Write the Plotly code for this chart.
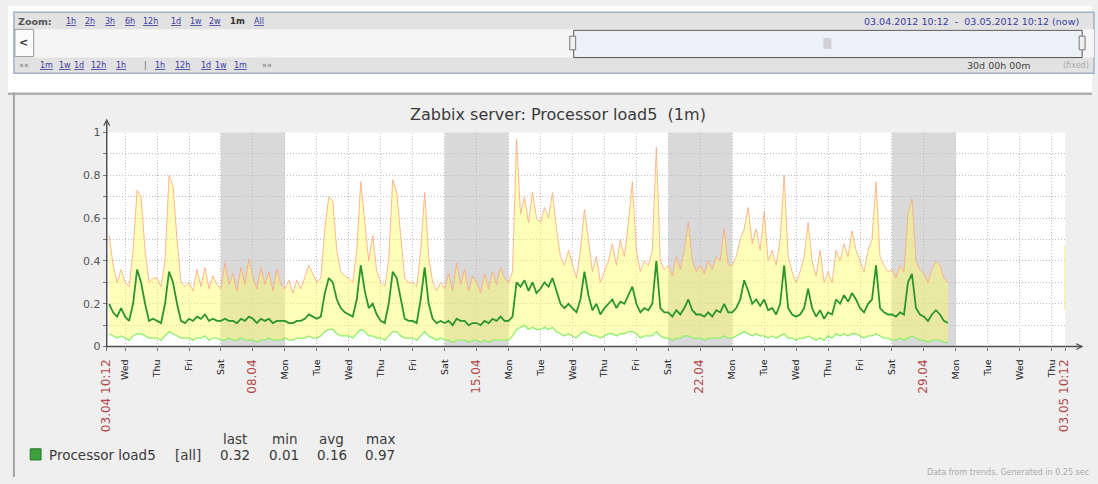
import plotly.graph_objects as go
import pandas as pd

W, H = 1098, 484

# ---------------- data (3-hour trend points, 03.04 12:00 .. 29.04 18:00) ----------------
series_start = "2012-04-03 12:00"
step = "3h"

max_load = [
    0.52, 0.38, 0.30, 0.36,
    0.30, 0.28, 0.45, 0.73, 0.70, 0.45, 0.30, 0.32,
    0.32, 0.28, 0.40, 0.80, 0.75, 0.50, 0.30, 0.28,
    0.30, 0.26, 0.36, 0.28, 0.37, 0.27, 0.33, 0.29,
    0.27, 0.39, 0.29, 0.34, 0.26, 0.37, 0.29, 0.41,
    0.32, 0.27, 0.37, 0.29, 0.35, 0.26, 0.36, 0.29,
    0.27, 0.31, 0.25, 0.31, 0.27, 0.33, 0.38, 0.34,
    0.30, 0.32, 0.55, 0.70, 0.68, 0.45, 0.35, 0.33,
    0.32, 0.30, 0.45, 0.77, 0.60, 0.40, 0.52, 0.35,
    0.30, 0.28, 0.40, 0.78, 0.72, 0.50, 0.32, 0.30,
    0.30, 0.28, 0.45, 0.72, 0.42, 0.30, 0.26, 0.30,
    0.27, 0.34, 0.26, 0.39, 0.29, 0.36, 0.26, 0.33,
    0.30, 0.25, 0.34, 0.27, 0.35, 0.29, 0.37, 0.32,
    0.30, 0.35, 0.97, 0.62, 0.70, 0.58, 0.72, 0.60,
    0.58, 0.65, 0.60, 0.72, 0.55, 0.42, 0.38, 0.45,
    0.38, 0.32, 0.45, 0.64, 0.50, 0.35, 0.42, 0.30,
    0.35, 0.40, 0.48, 0.38, 0.50, 0.42, 0.58, 0.77,
    0.45, 0.35, 0.40, 0.38, 0.45, 0.93, 0.40, 0.36,
    0.38, 0.33, 0.42, 0.36, 0.45, 0.58, 0.40, 0.35,
    0.38, 0.34, 0.40, 0.36, 0.42, 0.40, 0.55, 0.38,
    0.38, 0.42, 0.50, 0.55, 0.65, 0.48, 0.55, 0.45,
    0.63, 0.40, 0.45, 0.38, 0.50, 0.80, 0.42, 0.35,
    0.30, 0.35, 0.42, 0.58, 0.40, 0.33, 0.45, 0.30,
    0.35, 0.30, 0.45, 0.40, 0.48, 0.42, 0.54, 0.45,
    0.40, 0.35, 0.45, 0.50, 0.77, 0.42, 0.38, 0.35,
    0.36, 0.32, 0.38, 0.35, 0.62, 0.69, 0.40, 0.36,
    0.34, 0.30, 0.36, 0.40, 0.38, 0.32, 0.30,
]
avg_load = [
    0.20, 0.16, 0.14, 0.18,
    0.14, 0.12, 0.20, 0.36, 0.30, 0.20, 0.12, 0.13,
    0.12, 0.11, 0.20, 0.35, 0.30, 0.20, 0.12, 0.11,
    0.13, 0.12, 0.14, 0.13, 0.15, 0.12, 0.13, 0.12,
    0.12, 0.13, 0.12, 0.12, 0.11, 0.13, 0.12, 0.14,
    0.13, 0.11, 0.13, 0.12, 0.13, 0.11, 0.12, 0.12,
    0.12, 0.11, 0.11, 0.12, 0.12, 0.13, 0.15, 0.14,
    0.13, 0.14, 0.25, 0.32, 0.30, 0.22, 0.18, 0.16,
    0.15, 0.14, 0.22, 0.38, 0.26, 0.18, 0.20, 0.15,
    0.12, 0.11, 0.20, 0.35, 0.32, 0.22, 0.13, 0.12,
    0.12, 0.11, 0.22, 0.37, 0.20, 0.13, 0.11, 0.12,
    0.11, 0.12, 0.10, 0.13, 0.12, 0.12, 0.10, 0.11,
    0.11, 0.10, 0.12, 0.11, 0.13, 0.12, 0.14, 0.12,
    0.12, 0.14, 0.30, 0.28, 0.31, 0.26, 0.30, 0.25,
    0.27, 0.30, 0.28, 0.32, 0.26, 0.20, 0.18, 0.20,
    0.18, 0.16, 0.22, 0.35, 0.24, 0.17, 0.20, 0.15,
    0.18, 0.20, 0.22, 0.18, 0.21, 0.20, 0.24, 0.28,
    0.20, 0.16, 0.18, 0.17, 0.20, 0.40, 0.18, 0.16,
    0.16, 0.14, 0.17, 0.15, 0.18, 0.22, 0.17, 0.15,
    0.15, 0.14, 0.16, 0.14, 0.17, 0.16, 0.20, 0.16,
    0.16, 0.18, 0.22, 0.31, 0.26, 0.20, 0.22, 0.19,
    0.22, 0.17, 0.18, 0.15, 0.20, 0.38, 0.18, 0.15,
    0.14, 0.15, 0.18, 0.27, 0.18, 0.14, 0.17, 0.13,
    0.16, 0.15, 0.22, 0.20, 0.24, 0.21, 0.25, 0.22,
    0.18, 0.16, 0.20, 0.22, 0.38, 0.18, 0.16, 0.15,
    0.15, 0.14, 0.16, 0.15, 0.30, 0.34, 0.18, 0.15,
    0.14, 0.12, 0.15, 0.17, 0.15, 0.12, 0.11,
]
min_load = [
    0.06, 0.05, 0.04, 0.05,
    0.04, 0.03, 0.05, 0.06, 0.06, 0.05, 0.04, 0.04,
    0.04, 0.03, 0.05, 0.07, 0.06, 0.05, 0.04, 0.04,
    0.04, 0.03, 0.04, 0.04, 0.05, 0.03, 0.04, 0.04,
    0.03, 0.03, 0.04, 0.03, 0.03, 0.04, 0.03, 0.03,
    0.03, 0.02, 0.03, 0.03, 0.04, 0.03, 0.03, 0.03,
    0.04, 0.03, 0.03, 0.04, 0.04, 0.04, 0.05, 0.04,
    0.04, 0.05, 0.07, 0.08, 0.08, 0.06, 0.05, 0.05,
    0.05, 0.04, 0.06, 0.08, 0.07, 0.05, 0.05, 0.04,
    0.04, 0.03, 0.05, 0.07, 0.07, 0.05, 0.04, 0.04,
    0.04, 0.03, 0.05, 0.07, 0.05, 0.04, 0.03, 0.04,
    0.03, 0.03, 0.02, 0.03, 0.03, 0.03, 0.02, 0.03,
    0.03, 0.02, 0.03, 0.02, 0.03, 0.03, 0.03, 0.03,
    0.03, 0.05, 0.08, 0.09, 0.10, 0.08, 0.09, 0.08,
    0.08, 0.09, 0.08, 0.09, 0.07, 0.06, 0.05, 0.06,
    0.05, 0.04, 0.06, 0.07, 0.06, 0.05, 0.05, 0.04,
    0.05, 0.06, 0.06, 0.05, 0.06, 0.06, 0.07, 0.07,
    0.06, 0.04, 0.05, 0.05, 0.05, 0.07, 0.05, 0.04,
    0.04, 0.03, 0.04, 0.04, 0.05, 0.05, 0.04, 0.04,
    0.04, 0.03, 0.04, 0.04, 0.04, 0.04, 0.05, 0.04,
    0.04, 0.05, 0.06, 0.07, 0.06, 0.05, 0.06, 0.05,
    0.05, 0.04, 0.05, 0.04, 0.05, 0.06, 0.04, 0.04,
    0.03, 0.04, 0.04, 0.05, 0.04, 0.03, 0.04, 0.03,
    0.05, 0.04, 0.06, 0.05, 0.06, 0.05, 0.06, 0.06,
    0.05, 0.04, 0.05, 0.05, 0.06, 0.05, 0.04, 0.04,
    0.03, 0.03, 0.04, 0.03, 0.04, 0.05, 0.04, 0.03,
    0.03, 0.02, 0.03, 0.03, 0.03, 0.02, 0.02,
]
# last collected value (03.05 10:00)
last_time = "2012-05-03 10:00"
last_min, last_avg, last_max = 0.17, 0.32, 0.47

# legend statistics
stat_names = ["last", "min", "avg", "max"]
stat_values = ["0.32", "0.01", "0.16", "0.97"]

period_start = "2012-04-03 10:12"
period_end = "2012-05-03 10:12"
weekend_starts = ["2012-04-07", "2012-04-14", "2012-04-21", "2012-04-28"]
y_ticks = [0, 0.1, 0.2, 0.3, 0.4, 0.5, 0.6, 0.7, 0.8, 0.9, 1.0]
y_ticklabels = ["0", "", "0.2", "", "0.4", "", "0.6", "", "0.8", "", "1"]

# ---------------- helpers ----------------
def X(px):
    return px / W

def Y(py):
    return 1 - py / H

t = pd.date_range(series_start, periods=len(max_load), freq=step)
RED = "#b04848"

# x ticks: period start, each midnight, period end
midnights = pd.date_range("2012-04-04", "2012-05-03", freq="D")
tickvals = [pd.Timestamp(period_start)] + list(midnights) + [pd.Timestamp(period_end)]
ticktext = []
for i, d in enumerate(tickvals):
    if i == 0 or i == len(tickvals) - 1:
        ticktext.append('<span style="color:%s;font-size:12px">%s</span>' % (RED, d.strftime("%d.%m %H:%M")))
    elif d.dayofweek == 6:
        ticktext.append('<span style="color:%s;font-size:12px">%s</span>' % (RED, d.strftime("%d.%m")))
    else:
        ticktext.append(d.strftime("%a"))

fig = go.Figure()

# fill between min and max
fig.add_trace(go.Scatter(x=t, y=min_load, mode="lines", line=dict(width=0, color="rgba(0,0,0,0)"),
                         showlegend=False, hoverinfo="skip"))
fig.add_trace(go.Scatter(x=t, y=max_load, mode="lines", fill="tonexty",
                         fillcolor="rgba(255,255,90,0.42)",
                         line=dict(width=1, color="rgba(255,165,125,0.8)"),
                         showlegend=False, name="max"))
fig.add_trace(go.Scatter(x=t, y=min_load, mode="lines",
                         line=dict(width=1.3, color="#8cef6c"), showlegend=False, name="min"))
fig.add_trace(go.Scatter(x=t, y=avg_load, mode="lines",
                         line=dict(width=1.8, color="#2a962a"), showlegend=False, name="avg"))
# last value bar
fig.add_trace(go.Scatter(x=[pd.Timestamp(last_time)] * 2, y=[last_min, last_max], mode="lines",
                         line=dict(width=1.5, color="rgba(240,240,120,0.9)"), showlegend=False))

shapes = []
# weekend shading
for ws in weekend_starts:
    s = pd.Timestamp(ws)
    shapes.append(dict(type="rect", xref="x", yref="paper", x0=s, x1=s + pd.Timedelta(days=2),
                       y0=Y(350), y1=Y(130), fillcolor="#d9d9d9", line=dict(width=0), layer="below"))

# axis lines with arrows
shapes.append(dict(type="line", xref="paper", yref="paper", x0=X(100), x1=X(100), y0=Y(351), y1=Y(119),
                   line=dict(color="#505050", width=1.5)))
shapes.append(dict(type="line", xref="paper", yref="paper", x0=X(99), x1=X(1087), y0=Y(350), y1=Y(350),
                   line=dict(color="#505050", width=1.5)))
shapes.append(dict(type="path", xref="paper", yref="paper",
                   path="M %f %f L %f %f L %f %f" % (X(97), Y(123), X(100), Y(117), X(103), Y(123)),
                   line=dict(color="#505050", width=1.2)))
shapes.append(dict(type="path", xref="paper", yref="paper",
                   path="M %f %f L %f %f L %f %f" % (X(1082), Y(347), X(1088), Y(350), X(1082), Y(353)),
                   line=dict(color="#505050", width=1.2)))

# ---------- page header (zoom bar) ----------
shapes += [
    dict(type="rect", xref="paper", yref="paper", x0=0, x1=1, y0=Y(90), y1=1,
         fillcolor="white", line=dict(width=0), layer="above"),
    dict(type="rect", xref="paper", yref="paper", x0=X(6), x1=X(1100), y0=Y(69), y1=Y(6.5),
         fillcolor="#e2e2e2", line=dict(color="#a4b0c4", width=1.5), layer="above"),
    dict(type="rect", xref="paper", yref="paper", x0=X(7), x1=X(1100), y0=Y(53), y1=Y(24),
         fillcolor="#f5f5f5", line=dict(width=0), layer="above"),
    dict(type="rect", xref="paper", yref="paper", x0=X(7), x1=X(26), y0=Y(52), y1=Y(24),
         fillcolor="#fbfbfb", line=dict(color="#9a9a9a", width=1), layer="above"),
    dict(type="rect", xref="paper", yref="paper", x0=X(573), x1=X(1088), y0=Y(53), y1=Y(25),
         fillcolor="#eef0f6", line=dict(color="#555555", width=1), layer="above"),
    dict(type="rect", xref="paper", yref="paper", x0=X(569), x1=X(575), y0=Y(45), y1=Y(31),
         fillcolor="#f0f0f0", line=dict(color="#777777", width=1), layer="above"),
    dict(type="rect", xref="paper", yref="paper", x0=X(1085), x1=X(1091), y0=Y(45), y1=Y(31),
         fillcolor="#f0f0f0", line=dict(color="#777777", width=1), layer="above"),
    dict(type="rect", xref="paper", yref="paper", x0=X(826), x1=X(834), y0=Y(44), y1=Y(33),
         fillcolor="#d0d0d4", line=dict(width=0), layer="above"),
    dict(type="rect", xref="paper", yref="paper", x0=0, x1=1, y0=Y(91.5), y1=Y(89),
         fillcolor="#b0b0b0", line=dict(width=0), layer="above"),
    dict(type="rect", xref="paper", yref="paper", x0=X(5), x1=X(7), y0=0, y1=Y(89),
         fillcolor="#a5a5a5", line=dict(width=0), layer="above"),
]

ann = []
def txt(px, py, s, size=9, color="#333", xanchor="left", family="DejaVu Sans", **kw):
    ann.append(dict(x=X(px), y=Y(py), xref="paper", yref="paper", text=s, showarrow=False,
                    xanchor=xanchor, yanchor="middle", font=dict(size=size, color=color, family=family), **kw))

LINK = "#3a3aa0"
HF = 8
txt(8, 15.5, "<b>Zoom:</b>", size=9.5, color="#555")
for px, lab in [(57, "1h"), (76, "2h"), (96, "3h"), (116, "6h"), (135, "12h"), (163, "1d"),
                (182, "1w"), (202, "2w"), (247, "All")]:
    txt(px, 15.5, '<span style="text-decoration:underline">%s</span>' % lab, size=HF, color=LINK)
txt(223, 15.5, "<b>1m</b>", size=8.5, color="#333")
txt(865, 15.5, "03.04.2012 10:12  -  03.05.2012 10:12 (now)", size=9.5, color=LINK)
txt(16, 38, "<b>&lt;</b>", size=11, color="#333", xanchor="center")
nav = ["1m", "1w", "1d", "12h", "1h", "|", "1h", "12h", "1d", "1w", "1m"]
nav_x = [30, 50, 65, 82, 107, 136, 147, 167, 193, 208, 227]
txt(9, 61, "««", size=8, color="#777")
for px, lab in zip(nav_x, nav):
    if lab == "|":
        txt(px, 61, "|", size=HF, color="#666")
    else:
        txt(px, 61, '<span style="text-decoration:underline">%s</span>' % lab, size=HF, color=LINK)
txt(255, 61, "»»", size=8, color="#777")
txt(969, 61, "30d 00h 00m", size=9.5, color="#444")
txt(1097, 61, "(fixed)", size=8, color="#aaa", xanchor="right")

# graph title
txt(557, 111, "Zabbix server: Processor load5 \u00a0(1m)", size=16, color="#3a3a3a", xanchor="center")

# legend
shapes.append(dict(type="rect", xref="paper", yref="paper", x0=X(22.5), x1=X(33.5), y0=Y(466.5), y1=Y(455),
                   fillcolor="#3da03d", line=dict(color="#2a7a2a", width=1), layer="above"))
LF = 13.5
txt(39, 461, "Processor load5", size=LF, color="#3a3a3a")
txt(167, 461, "[all]", size=LF, color="#3a3a3a")
for px, name, val in zip([230, 280, 328, 377], stat_names, stat_values):
    txt(px, 445, name, size=LF, color="#3a3a3a", xanchor="center")
    txt(px, 461, val, size=LF, color="#3a3a3a", xanchor="center")
txt(1097, 479, "Data from trends. Generated in 0.25 sec", size=8, color="#aaa", xanchor="right")

fig.update_layout(
    width=W, height=H,
    margin=dict(l=0, r=0, t=0, b=0),
    paper_bgcolor="#efefef",
    plot_bgcolor="white",
    showlegend=False,
    shapes=shapes,
    annotations=ann,
    font=dict(family="DejaVu Sans", color="#333"),
    xaxis=dict(
        domain=[X(100), X(1071)],
        range=[pd.Timestamp(period_start), pd.Timestamp(period_end)],
        tickmode="array", tickvals=tickvals, ticktext=ticktext,
        tickangle=-90, tickfont=dict(size=9.5, color="#222", family="DejaVu Sans"),
        ticklabelstandoff=5,
        showgrid=True, gridcolor="#bdbdbd", griddash="1px,2px", gridwidth=1,
        ticks="outside", ticklen=3, tickcolor="#777",
        showline=False, zeroline=False, fixedrange=True,
    ),
    yaxis=dict(
        domain=[Y(350), Y(130)],
        range=[0, 1],
        tickmode="array", tickvals=y_ticks, ticktext=y_ticklabels,
        tickfont=dict(size=11, color="#555", family="DejaVu Sans"),
        showgrid=True, gridcolor="#bdbdbd", griddash="1px,2px", gridwidth=1,
        ticks="outside", ticklen=3, tickcolor="#777",
        showline=False, zeroline=False, fixedrange=True,
    ),
)

fig.write_html("out.html", config={"displayModeBar": False},
               post_script="document.body.style.margin='0';document.body.style.overflow='hidden';")
